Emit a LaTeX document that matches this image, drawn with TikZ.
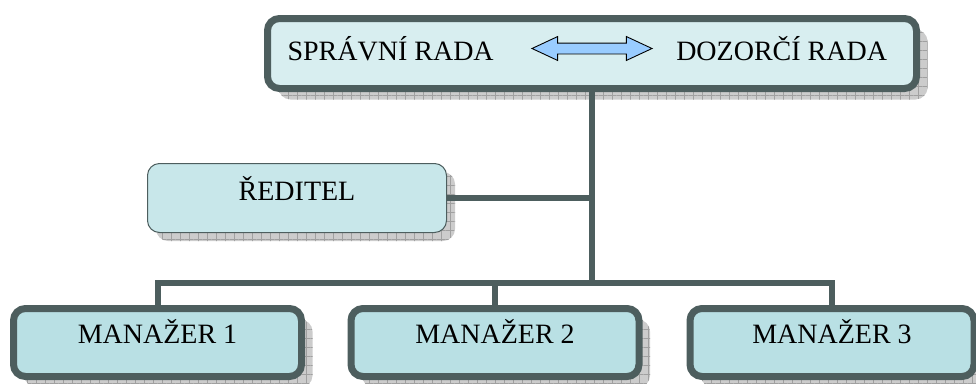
\documentclass[tikz,border=0pt]{standalone}
\usepackage{fontspec}
\setmainfont{Liberation Serif}
\usetikzlibrary{
    positioning,
    shapes.arrows,
    shadows,
    patterns.meta
}
\definecolor{frame}{RGB}{77,94,94}
\definecolor{boardfill}{RGB}{216,238,240}
\definecolor{directorfill}{RGB}{200,231,234}
\definecolor{unitfill}{RGB}{185,224,228}
\definecolor{shadowfill}{RGB}{204,204,204}
\definecolor{shadowgrid}{RGB}{160,160,160}
\definecolor{arrowfill}{RGB}{153,204,255}
\newcommand{\orgfont}{\fontsize{28}{33}\selectfont}
\tikzset{
    boxshadow/.style={
        drop shadow={shadow xshift=#1, shadow yshift=-#1, opacity=1, fill=shadowfill},
        drop shadow={shadow xshift=#1, shadow yshift=-#1, opacity=1,
            pattern={Hatch[distance=9pt, angle=0, line width=0.5pt]},
            pattern color=shadowgrid}
    },
    base box/.style={
        rectangle,
        rounded corners=12pt,
        draw=frame,
        inner sep=0pt,
        font=\orgfont,
        text=black,
        text height=18pt
    },
    board/.style={
        base box,
        line width=7pt,
        fill=boardfill,
        minimum width=649pt,
        minimum height=70pt,
        boxshadow=11pt
    },
    director/.style={
        base box,
        line width=1pt,
        fill=directorfill,
        minimum width=299pt,
        minimum height=69pt,
        text depth=14pt,
        boxshadow=8.5pt
    },
    unit/.style={
        base box,
        line width=7pt,
        fill=unitfill,
        minimum width=288pt,
        minimum height=68pt,
        text depth=17pt,
        boxshadow=11pt
    },
    boardtext/.style={
        font=\orgfont,
        inner sep=0pt,
        text height=18pt,
        text depth=0pt
    },
    twoway/.style={
        double arrow,
        draw=black,
        line width=0.9pt,
        fill=arrowfill,
        minimum height=120pt,
        inner xsep=0pt,
        inner ysep=5pt,
        double arrow head extend=6.5pt,
        double arrow tip angle=50
    },
    link/.style={
        draw=frame,
        line width=6pt
    }
}

\begin{document}
\begin{tikzpicture}[x=1pt, y=-1pt]
\useasboundingbox (0,0) rectangle (976,383);

% boards
\node[board] (boards) at (592,53.5) {};
\node[twoway, yshift=5pt] (dbl) at (boards) {};
\node[boardtext, left=37pt of dbl, yshift=-3pt] (spravni) {SPRÁVNÍ RADA};
\node[boardtext, right=23pt of dbl, yshift=-3pt] (dozorci) {DOZORČÍ RADA};

% director
\node[director] (reditel) at (297,198) {ŘEDITEL};

% managers
\node[unit] (m1) at (157.5,342.5) {MANAŽER 1};
\node[unit] (m2) at (495,342.5) {MANAŽER 2};
\node[unit, minimum width=284pt] (m3) at (832,342.5) {MANAŽER 3};

% lines
\coordinate (bus) at (592,283);
\draw[link] (boards.south) -- (bus);
\draw[link] (reditel.east) -- (reditel.east -| bus);
\draw[link] (m1.north) -- (m1.north |- bus) -- (m3.north |- bus) -- (m3.north);
\draw[link] (m2.north) -- (m2.north |- bus);
\end{tikzpicture}
\end{document}
